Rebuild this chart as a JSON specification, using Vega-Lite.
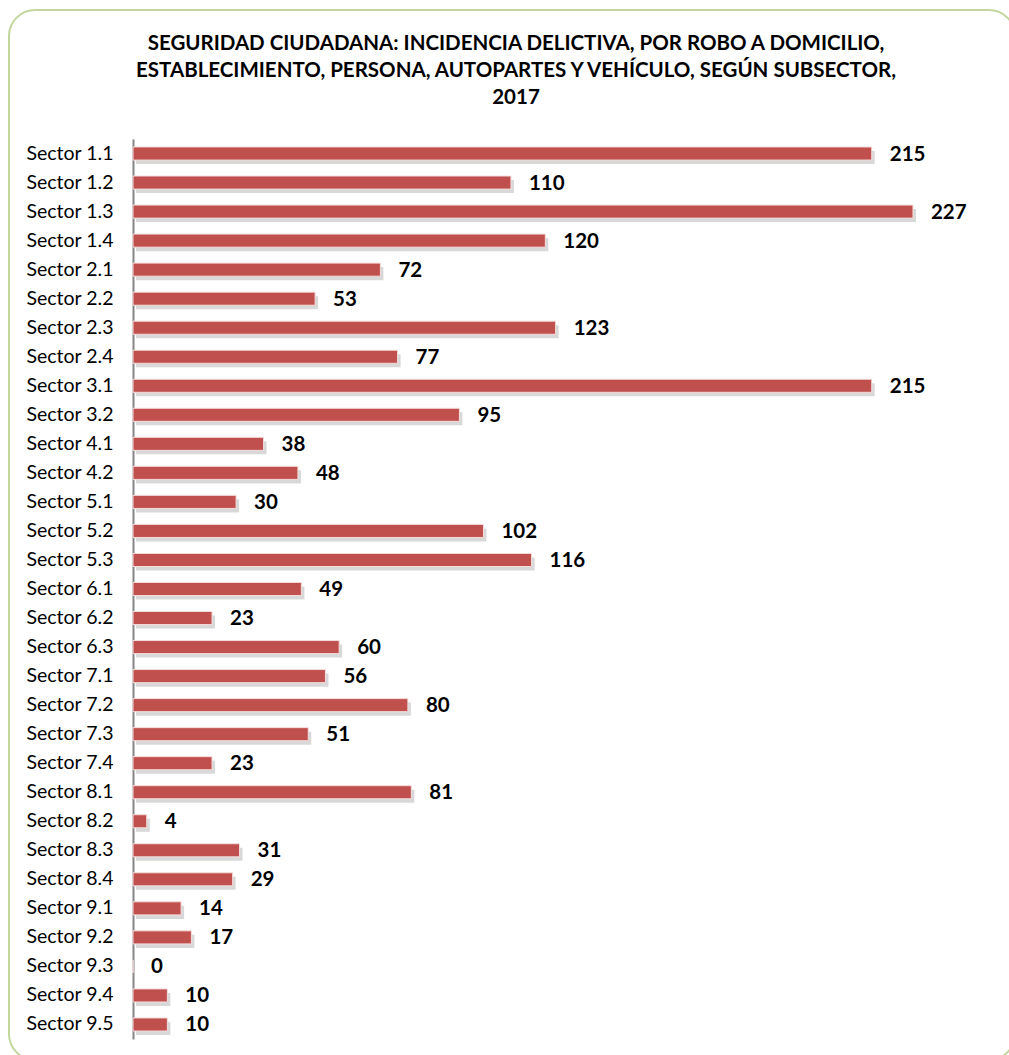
{
  "$schema": "https://vega.github.io/schema/vega-lite/v6.json",
  "autosize": "none",
  "width": 1006,
  "height": 1050,
  "padding": {"left": 9, "top": 10, "right": 0, "bottom": 0},
  "background": "white",
  "config": {
    "view": {"stroke": "#c3d69b", "strokeWidth": 2, "cornerRadius": 26},
    "font": "Lato"
  },
  "title": {
    "text": ["SEGURIDAD CIUDADANA: INCIDENCIA DELICTIVA, POR ROBO A DOMICILIO,", "ESTABLECIMIENTO, PERSONA, AUTOPARTES Y VEHÍCULO, SEGÚN SUBSECTOR,", "2017"],
    "font": "Lato",
    "fontSize": 20.5,
    "fontWeight": "bold",
    "color": "#000000",
    "lineHeight": 27,
    "anchor": "middle",
    "offset": -98,
    "dx": 4
  },
  "data": {
    "values": [
      {"sector": "Sector 1.1", "valor": 215},
      {"sector": "Sector 1.2", "valor": 110},
      {"sector": "Sector 1.3", "valor": 227},
      {"sector": "Sector 1.4", "valor": 120},
      {"sector": "Sector 2.1", "valor": 72},
      {"sector": "Sector 2.2", "valor": 53},
      {"sector": "Sector 2.3", "valor": 123},
      {"sector": "Sector 2.4", "valor": 77},
      {"sector": "Sector 3.1", "valor": 215},
      {"sector": "Sector 3.2", "valor": 95},
      {"sector": "Sector 4.1", "valor": 38},
      {"sector": "Sector 4.2", "valor": 48},
      {"sector": "Sector 5.1", "valor": 30},
      {"sector": "Sector 5.2", "valor": 102},
      {"sector": "Sector 5.3", "valor": 116},
      {"sector": "Sector 6.1", "valor": 49},
      {"sector": "Sector 6.2", "valor": 23},
      {"sector": "Sector 6.3", "valor": 60},
      {"sector": "Sector 7.1", "valor": 56},
      {"sector": "Sector 7.2", "valor": 80},
      {"sector": "Sector 7.3", "valor": 51},
      {"sector": "Sector 7.4", "valor": 23},
      {"sector": "Sector 8.1", "valor": 81},
      {"sector": "Sector 8.2", "valor": 4},
      {"sector": "Sector 8.3", "valor": 31},
      {"sector": "Sector 8.4", "valor": 29},
      {"sector": "Sector 9.1", "valor": 14},
      {"sector": "Sector 9.2", "valor": 17},
      {"sector": "Sector 9.3", "valor": 0},
      {"sector": "Sector 9.4", "valor": 10},
      {"sector": "Sector 9.5", "valor": 10}
    ]
  },
  "encoding": {
    "y": {
      "field": "sector",
      "type": "nominal",
      "sort": null,
      "scale": {"range": [129, 1029], "paddingInner": 0.55, "paddingOuter": 0.275},
      "axis": {
        "title": null,
        "offset": -124,
        "ticks": false,
        "domain": true,
        "domainColor": "#868686",
        "domainWidth": 2,
        "labelFont": "Lato",
        "labelFontSize": 19.5,
        "labelColor": "#000000",
        "labelPadding": 20
      }
    },
    "x": {
      "field": "valor",
      "type": "quantitative",
      "scale": {"domain": [0, 250], "range": [124, 983], "nice": false, "zero": true},
      "axis": null
    }
  },
  "layer": [
    {
      "mark": {"type": "bar", "color": "#7f7f7f", "opacity": 0.3, "yOffset": 4, "xOffset": 3}
    },
    {
      "mark": {"type": "bar", "color": "#C0504D", "stroke": "#f4dcdb", "strokeWidth": 1}
    },
    {
      "mark": {"type": "text", "align": "left", "baseline": "middle", "dx": 18, "dy": 1, "font": "Lato", "fontSize": 20.5, "fontWeight": "bold", "color": "#000000"},
      "encoding": {"text": {"field": "valor", "type": "quantitative"}}
    }
  ]
}
